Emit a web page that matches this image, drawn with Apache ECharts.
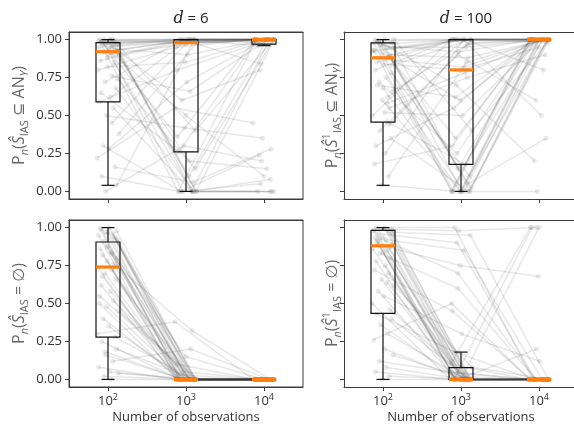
<!DOCTYPE html>
<html>
<head>
<meta charset="utf-8">
<script src="https://cdn.jsdelivr.net/npm/echarts@6/dist/echarts.min.js"></script>
<style>
  html, body { margin: 0; padding: 0; background: #fff; overflow: hidden; }
  #chart { width: 574px; height: 428px; }
</style>
</head>
<body>
<div id="chart"></div>
<script>
// sample sizes (x positions, log scale)
const N_OBS = [100, 1000, 10000]
const Y_TICKS = [0, 0.25, 0.5, 0.75, 1]

// horizontal jitter of each replicate, in decades
const JITTER = [0.02, -0.08, 0.11, -0.03, 0.06, -0.12, 0.09, -0.05, 0.13, 0.00, -0.10, 0.04,
  -0.07, 0.12, -0.01, 0.08, -0.13, 0.05, -0.04, 0.10, -0.09, 0.03, -0.11, 0.07,
  -0.02, 0.14, -0.06, 0.01, -0.14, 0.09, -0.08, 0.11, -0.03, 0.06, -0.12, 0.02,
  0.13, -0.05, 0.04, -0.10, 0.08, -0.01, 0.12, -0.07, 0.00, -0.11, 0.05, -0.04]

// box stats per sample size: [whisker low, q1, median, q3, whisker high]
const BOX_SUBSET_D6 = [[0.04, 0.59, 0.92, 0.98, 1.0], [0.0, 0.26, 0.98, 1.0, 1.0], [0.96, 0.97, 1.0, 1.0, 1.0]]
const BOX_SUBSET_D100 = [[0.04, 0.457, 0.88, 0.978, 1.0], [0.0, 0.178, 0.80, 1.0, 1.0], [1.0, 1.0, 1.0, 1.0, 1.0]]
const BOX_EMPTY_D6 = [[0.0, 0.279, 0.74, 0.905, 1.0], [0, 0, 0, 0, 0], [0, 0, 0, 0, 0]]
const BOX_EMPTY_D100 = [[0.0, 0.435, 0.88, 0.982, 1.0], [0, 0, 0, 0.077, 0.18], [0, 0, 0, 0, 0]]

// replicate trajectories: value at n = 1e2, 1e3, 1e4
const TRAJ_SUBSET_D6 = [
  [1.00, 1.00, 1.00], [0.99, 1.00, 1.00], [0.98, 1.00, 1.00], [0.97, 0.99, 1.00],
  [0.96, 1.00, 1.00], [0.95, 0.98, 1.00], [0.93, 1.00, 1.00], [0.92, 0.99, 1.00],
  [0.92, 0.00, 0.00], [0.90, 0.97, 1.00], [0.98, 0.00, 1.00], [1.00, 0.10, 1.00],
  [0.99, 0.98, 0.99], [0.97, 0.40, 1.00], [0.88, 1.00, 0.98], [0.85, 0.00, 0.08],
  [0.80, 0.95, 1.00], [0.76, 0.66, 1.00], [0.72, 1.00, 0.84], [0.68, 0.00, 0.00],
  [0.65, 0.26, 1.00], [0.62, 1.00, 1.00], [0.59, 0.80, 0.97], [0.55, 0.00, 1.00],
  [0.50, 0.42, 0.35], [0.38, 0.98, 1.00], [0.30, 0.00, 0.24], [0.28, 0.72, 1.00],
  [0.22, 0.55, 0.45], [0.16, 0.06, 0.28], [0.10, 0.00, 0.00], [0.04, 1.00, 1.00],
  [0.00, 0.30, 0.20], [1.00, 1.00, 1.00], [0.99, 0.99, 1.00], [0.94, 0.90, 1.00],
  [0.91, 0.00, 1.00], [1.00, 0.60, 0.80], [0.96, 0.20, 0.15], [0.86, 0.98, 1.00],
  [0.99, 0.00, 0.00], [0.82, 0.85, 1.00], [0.74, 0.15, 1.00], [0.97, 1.00, 0.96],
  [0.93, 0.50, 0.10], [1.00, 0.36, 1.00], [0.45, 1.00, 1.00], [0.97, 0.00, 0.05]
]
const TRAJ_SUBSET_D100 = [
  [1.00, 1.00, 1.00], [0.99, 1.00, 1.00], [0.98, 0.00, 1.00], [0.97, 1.00, 1.00],
  [0.95, 0.95, 1.00], [0.93, 0.00, 1.00], [0.90, 0.88, 1.00], [0.88, 1.00, 1.00],
  [0.86, 0.02, 1.00], [0.84, 0.80, 0.95], [0.80, 1.00, 1.00], [0.75, 0.00, 1.00],
  [0.70, 0.62, 1.00], [0.66, 0.98, 1.00], [0.60, 0.00, 1.00], [0.55, 0.75, 0.90],
  [0.50, 1.00, 1.00], [0.46, 0.18, 1.00], [0.40, 0.90, 0.60], [0.35, 0.00, 1.00],
  [0.30, 0.55, 1.00], [0.25, 1.00, 0.50], [0.18, 0.30, 1.00], [0.10, 0.85, 1.00],
  [0.04, 0.00, 0.00], [1.00, 0.40, 1.00], [0.99, 0.70, 0.20], [0.97, 0.00, 1.00],
  [0.92, 0.99, 1.00], [0.89, 0.05, 0.35], [0.85, 1.00, 1.00], [0.78, 0.10, 1.00],
  [0.96, 0.92, 1.00], [0.62, 1.00, 0.80], [0.98, 0.00, 1.00], [0.52, 0.50, 1.00],
  [0.94, 1.00, 1.00], [0.72, 0.25, 1.00], [0.87, 0.82, 1.00], [1.00, 0.00, 1.00],
  [0.44, 0.97, 1.00], [0.91, 0.60, 1.00], [0.83, 1.00, 0.98], [0.98, 0.35, 1.00],
  [0.68, 0.00, 1.00], [0.93, 1.00, 1.00], [0.58, 0.78, 1.00], [0.99, 0.15, 1.00]
]
const TRAJ_EMPTY_D6 = [
  [1.00, 0.00, 0.00], [0.99, 0.00, 0.00], [0.98, 0.00, 0.00], [0.97, 0.05, 0.00],
  [0.96, 0.00, 0.00], [0.95, 0.00, 0.00], [0.93, 0.00, 0.00], [0.91, 0.00, 0.00],
  [0.90, 0.00, 0.00], [0.88, 0.15, 0.00], [0.86, 0.00, 0.00], [0.84, 0.00, 0.00],
  [0.82, 0.00, 0.00], [0.80, 0.00, 0.00], [0.78, 0.00, 0.00], [0.76, 0.32, 0.00],
  [0.74, 0.00, 0.00], [0.72, 0.00, 0.00], [0.70, 0.00, 0.00], [0.66, 0.00, 0.00],
  [0.62, 0.00, 0.00], [0.58, 0.00, 0.00], [0.55, 0.10, 0.00], [0.52, 0.00, 0.00],
  [0.48, 0.00, 0.00], [0.45, 0.00, 0.00], [0.40, 0.00, 0.00], [0.35, 0.00, 0.00],
  [0.30, 0.38, 0.00], [0.28, 0.00, 0.00], [0.25, 0.00, 0.00], [0.20, 0.00, 0.00],
  [0.16, 0.00, 0.00], [0.12, 0.20, 0.00], [0.08, 0.00, 0.00], [0.05, 0.00, 0.00],
  [0.04, 0.00, 0.00], [0.02, 0.00, 0.00], [0.00, 0.00, 0.00], [0.99, 0.03, 0.00],
  [0.94, 0.00, 0.00], [0.87, 0.00, 0.00], [0.92, 0.00, 0.00], [0.68, 0.00, 0.00],
  [0.97, 0.00, 0.00], [0.50, 0.00, 0.00], [0.83, 0.00, 0.00], [0.18, 0.00, 0.00]
]
const TRAJ_EMPTY_D100 = [
  [1.00, 0.00, 0.00], [1.00, 1.00, 0.00], [0.99, 0.00, 0.00], [0.99, 0.98, 1.00],
  [0.98, 0.00, 0.00], [0.98, 0.05, 0.00], [0.97, 0.00, 0.00], [0.96, 0.90, 0.00],
  [0.95, 0.00, 0.00], [0.94, 0.00, 1.00], [0.93, 0.02, 0.00], [0.92, 0.85, 0.00],
  [0.90, 0.00, 0.00], [0.89, 0.00, 0.00], [0.88, 0.75, 0.68], [0.87, 0.00, 0.00],
  [0.86, 0.10, 0.00], [0.85, 0.00, 0.00], [0.83, 0.60, 0.00], [0.80, 0.00, 0.00],
  [0.78, 0.00, 1.00], [0.75, 0.00, 0.00], [0.72, 0.45, 0.00], [0.70, 0.00, 0.00],
  [0.66, 0.00, 0.00], [0.62, 0.08, 0.00], [0.58, 0.00, 0.00], [0.55, 0.30, 0.12],
  [0.50, 0.00, 0.00], [0.46, 0.00, 0.00], [0.43, 0.18, 0.00], [0.40, 0.00, 0.00],
  [0.36, 0.00, 0.20], [0.30, 0.00, 0.00], [0.26, 0.50, 0.00], [0.20, 0.00, 0.00],
  [0.16, 0.00, 0.00], [0.12, 0.04, 0.00], [0.08, 0.00, 0.00], [0.05, 0.00, 0.00],
  [0.02, 0.00, 0.00], [0.00, 0.00, 0.00], [0.97, 0.95, 0.00], [0.91, 0.00, 0.00],
  [0.84, 0.00, 0.00], [0.99, 0.12, 1.00], [0.64, 0.00, 0.00], [0.93, 0.70, 0.00]
]

const FONT = "'Open Sans', 'DejaVu Sans', sans-serif"
const AXIS_COLOR = '#3d3d3d'
const NAME_COLOR = '#666'

// rich styles for the math-ish labels
const mathRich = {
  r: { fontSize: 16, lineHeight: 22, fill: NAME_COLOR, fontFamily: FONT },
  i: { fontSize: 16, lineHeight: 22, fill: NAME_COLOR, fontFamily: FONT, fontStyle: 'italic' },
  sb: { fontSize: 11, lineHeight: 11, fill: NAME_COLOR, fontFamily: FONT, verticalAlign: 'bottom' },
  si: { fontSize: 11, lineHeight: 11, fill: NAME_COLOR, fontFamily: FONT, fontStyle: 'italic', verticalAlign: 'bottom' },
  sp: { fontSize: 11, lineHeight: 11, fill: NAME_COLOR, fontFamily: FONT, verticalAlign: 'top' }
}

const Y_NAME_SUBSET = '{r|P}{si|n}{r|(}{i|Ŝ}{sb|IAS}{r| ⊆ AN}{si|Y}{r|)}'
const Y_NAME_SUBSET_1 = '{r|P}{si|n}{r|(}{i|Ŝ}{sp|1}{sb|IAS}{r| ⊆ AN}{si|Y}{r|)}'
const Y_NAME_EMPTY = '{r|P}{si|n}{r|(}{i|Ŝ}{sb|IAS}{r| = ∅)}'
const Y_NAME_EMPTY_1 = '{r|P}{si|n}{r|(}{i|Ŝ}{sp|1}{sb|IAS}{r| = ∅)}'

const GRID_W = 234
const GRID_H = 167
// right-hand panels run past the edge of the figure, so they get no right spine
const panels = [
  { traj: TRAJ_SUBSET_D6, box: BOX_SUBSET_D6, left: 69, top: 32, yName: Y_NAME_SUBSET, yLabels: true, xLabels: false, closed: true },
  { traj: TRAJ_SUBSET_D100, box: BOX_SUBSET_D100, left: 344, top: 32, yName: Y_NAME_SUBSET_1, yLabels: false, xLabels: false, closed: false },
  { traj: TRAJ_EMPTY_D6, box: BOX_EMPTY_D6, left: 69, top: 220, yName: Y_NAME_EMPTY, yLabels: true, xLabels: true, closed: true },
  { traj: TRAJ_EMPTY_D100, box: BOX_EMPTY_D100, left: 344, top: 220, yName: Y_NAME_EMPTY_1, yLabels: false, xLabels: true, closed: false }
]

function renderBox(params, api) {
  const n = api.value(0)
  const lo = api.coord([n, api.value(1)])[1]
  const q1 = api.coord([n, api.value(2)])[1]
  const md = api.coord([n, api.value(3)])
  const q3 = api.coord([n, api.value(4)])[1]
  const hi = api.coord([n, api.value(5)])[1]
  const x = md[0]
  const hw = 12
  const cw = 6.5
  const st = { stroke: '#111', lineWidth: 1.2, fill: null }
  return {
    type: 'group',
    children: [
      { type: 'line', shape: { x1: x, y1: q1, x2: x, y2: lo }, style: st },
      { type: 'line', shape: { x1: x, y1: q3, x2: x, y2: hi }, style: st },
      { type: 'line', shape: { x1: x - cw, y1: lo, x2: x + cw, y2: lo }, style: st },
      { type: 'line', shape: { x1: x - cw, y1: hi, x2: x + cw, y2: hi }, style: st },
      { type: 'rect', shape: { x: x - hw, y: q3, width: 2 * hw, height: q1 - q3 }, style: st },
      { type: 'line', shape: { x1: x - hw, y1: md[1], x2: x + hw, y2: md[1] }, style: { stroke: '#ff7f0e', lineWidth: 3.2 } }
    ]
  }
}

const grid = []
const xAxis = []
const yAxis = []
const series = []
const graphic = []
const spine = { show: true, onZero: false, lineStyle: { color: AXIS_COLOR, width: 1 } }
const xRange = { type: 'log', logBase: 10, min: Math.pow(10, 1.5), max: Math.pow(10, 4.5) }
const yRange = { type: 'value', min: -0.05, max: 1.05 }

panels.forEach((p, k) => {
  grid.push({
    left: p.left, top: p.top, width: GRID_W, height: GRID_H,
    outerBoundsMode: 'none', containLabel: false,
    show: p.closed, borderColor: AXIS_COLOR, borderWidth: 1, backgroundColor: 'transparent'
  })
  // main axes (bottom / left)
  xAxis.push(Object.assign({}, xRange, {
    gridIndex: k, position: 'bottom',
    axisLine: spine,
    splitLine: { show: false },
    axisTick: { show: true, length: 4, customValues: N_OBS, lineStyle: { color: AXIS_COLOR, width: 1 } },
    axisLabel: {
      show: p.xLabels, customValues: N_OBS, margin: 6,
      formatter: (v) => '{b|10}{s|' + Math.round(Math.log10(v)) + '}',
      rich: {
        b: { fontSize: 13, lineHeight: 17, color: '#333', fontFamily: FONT },
        s: { fontSize: 9, lineHeight: 9, color: '#333', fontFamily: FONT, verticalAlign: 'top' }
      }
    },
    name: p.xLabels ? 'Number of observations' : '',
    nameLocation: 'middle', nameGap: 24,
    nameTextStyle: { fontSize: 13, color: '#333', fontFamily: FONT }
  }))
  yAxis.push(Object.assign({}, yRange, {
    gridIndex: k, position: 'left',
    axisLine: spine,
    splitLine: { show: false },
    axisTick: { show: true, length: 4, customValues: Y_TICKS, lineStyle: { color: AXIS_COLOR, width: 1 } },
    axisLabel: {
      show: p.yLabels, customValues: Y_TICKS, margin: 7,
      formatter: (v) => v.toFixed(2),
      fontSize: 13, color: '#333', fontFamily: FONT
    }
  }))
})

// top spines: bare axes, lines only
panels.forEach((p, k) => {
  xAxis.push(Object.assign({}, xRange, {
    gridIndex: k, position: 'top', axisLine: spine,
    axisTick: { show: false }, axisLabel: { show: false }, splitLine: { show: false }
  }))
})

panels.forEach((p, k) => {
  // y axis title, rotated, centred on the panel
  graphic.push({
    type: 'text', silent: true,
    x: p.yLabels ? p.left - 50 : p.left - 12,
    y: p.top + GRID_H / 2,
    rotation: Math.PI / 2,
    style: {
      text: p.yName, rich: mathRich, align: 'center', verticalAlign: 'middle',
      fontSize: 16, fontFamily: FONT, fill: NAME_COLOR
    }
  })

  const lines = p.traj.map((t, i) => ({
    coords: t.map((v, j) => [N_OBS[j] * Math.pow(10, JITTER[i]), v])
  }))
  const points = []
  p.traj.forEach((t, i) => t.forEach((v, j) => points.push([N_OBS[j] * Math.pow(10, JITTER[i]), v])))

  series.push({
    type: 'lines', coordinateSystem: 'cartesian2d', xAxisIndex: k, yAxisIndex: k,
    polyline: true, silent: true, z: 1,
    lineStyle: { color: '#3a3a3a', width: 1.5, opacity: 0.12 },
    data: lines
  })
  series.push({
    type: 'scatter', xAxisIndex: k, yAxisIndex: k, silent: true, z: 2,
    symbolSize: 5, itemStyle: { color: '#666', opacity: 0.14 },
    data: points
  })
  series.push({
    type: 'custom', xAxisIndex: k, yAxisIndex: k, silent: true, z: 5,
    renderItem: renderBox,
    encode: { x: 0, y: [1, 2, 3, 4, 5] },
    data: p.box.map((b, j) => [N_OBS[j]].concat(b))
  })
})

const titleStyle = {
  fontSize: 15, color: '#222', fontFamily: FONT, fontWeight: 'normal',
  rich: {
    it: { fontSize: 16, fontFamily: "'DejaVu Serif', serif", fontStyle: 'italic', color: '#222' },
    t: { fontSize: 15, fontFamily: FONT, color: '#222' }
  }
}

const chart = echarts.init(document.getElementById('chart'), null, { renderer: 'canvas' })
chart.setOption({
  animation: false,
  backgroundColor: '#fff',
  title: [
    { text: '{it|d}{t| = 6}', left: 186, top: 6, textAlign: 'center', textStyle: titleStyle },
    { text: '{it|d}{t| = 100}', left: 461, top: 6, textAlign: 'center', textStyle: titleStyle }
  ],
  graphic,
  grid,
  xAxis,
  yAxis,
  series
})
</script>
</body>
</html>
